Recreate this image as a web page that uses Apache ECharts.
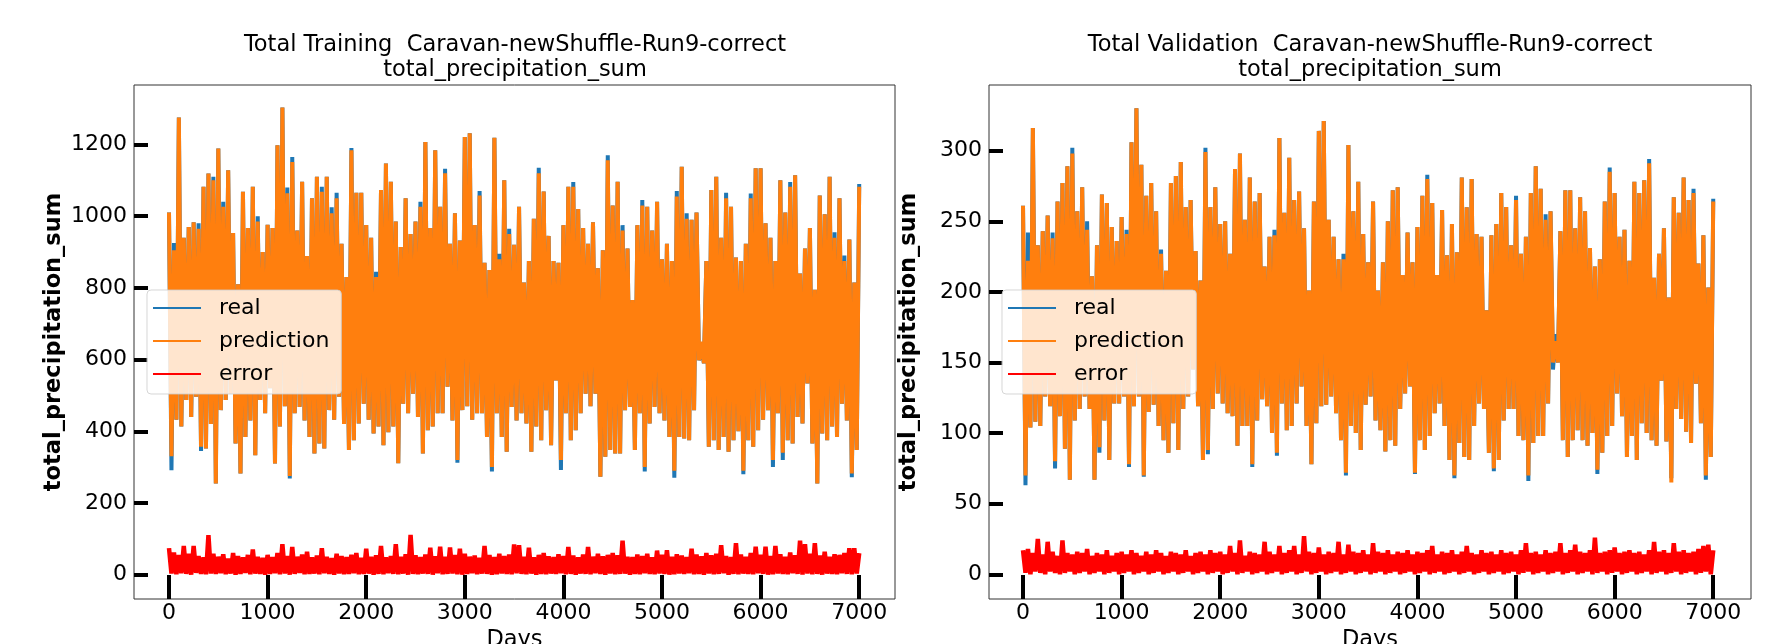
<!DOCTYPE html>
<html lang="en">
<head>
    <meta charset="UTF-8">
    <title>total_precipitation_sum</title>
    <style>
        html, body { margin: 0; padding: 0; background: #fff; }
    </style>
</head>
<body>
<div id="container" style="width: 1766px; height: 644px"></div>
<script type="text/javascript" src="https://cdn.jsdelivr.net/npm/echarts@6/dist/echarts.min.js"></script>
<script type="text/javascript">
    // curves every 25 days (peaks and troughs alternate)
    var dayStep = 25;
    var xTicks = [0, 1000, 2000, 3000, 4000, 5000, 6000, 7000];
    var trainTicks = [0, 200, 400, 600, 800, 1000, 1200];
    var validTicks = [0, 50, 100, 150, 200, 250, 300];

    var trainReal = [
        1010,291,925,432,1275,413,940,487,970,440,983,496,980,345,1082,352,1119,420,1110,254,
        1189,459,1040,487,1128,505,953,366,810,282,1068,384,967,430,1082,333,1000,487,900,450,
        976,520,967,310,1198,413,1303,470,1080,268,1165,450,960,468,1096,430,889,384,1050,338,
        1110,366,1082,352,1110,459,1025,432,1065,496,923,420,830,348,1190,375,1065,422,1065,477,
        975,432,940,394,845,413,1073,361,1147,397,1096,413,985,311,914,477,1050,450,950,505,
        985,440,1040,338,1207,403,967,413,1184,450,1026,450,1132,524,923,430,1008,312,932,459,
        1221,470,1231,432,975,450,1070,450,870,384,850,288,1219,450,895,384,1100,343,965,468,
        920,430,1026,450,815,422,875,343,993,413,1135,375,1069,459,945,361,875,542,870,292,
        975,450,1082,375,1095,403,1020,450,967,505,923,470,983,505,855,273,905,329,1170,348,
        1030,338,1096,338,975,459,910,468,766,348,975,450,1045,288,1026,422,960,468,1040,450,
        880,430,923,384,875,270,1070,384,1138,380,1008,375,990,459,1010,598,630,590,875,357,
        1073,375,1110,348,940,384,1065,343,1026,375,885,400,875,280,923,375,1063,357,1134,403,
        1134,432,980,459,940,300,875,450,1100,320,1010,375,1095,366,1114,440,840,422,910,533,
        967,366,795,254,1058,394,1005,375,1110,413,955,384,1050,477,890,430,935,272,815,348,
        1090
    ];
    var trainPred = [
        1010,330,905,432,1275,413,940,487,970,440,983,496,965,357,1082,352,1119,420,1100,254,
        1189,459,1026,487,1128,505,953,366,810,282,1068,384,967,430,1082,333,985,487,900,450,
        976,520,967,310,1198,413,1303,470,1064,275,1151,450,960,468,1096,430,889,384,1050,338,
        1110,366,1068,352,1110,459,1008,432,1050,496,923,420,830,348,1184,375,1065,422,1065,477,
        975,432,940,394,830,413,1073,361,1147,397,1096,413,985,311,914,477,1050,450,950,505,
        985,440,1026,338,1207,403,967,413,1184,450,1026,450,1120,524,923,430,1008,320,932,459,
        1221,470,1231,432,975,450,1058,450,870,384,850,300,1219,450,880,384,1100,343,950,468,
        920,430,1026,450,815,422,875,343,993,413,1120,375,1069,459,945,361,875,542,870,320,
        975,450,1082,375,1082,403,1020,450,967,505,923,470,983,505,855,273,905,329,1156,348,
        1030,338,1096,338,960,459,910,468,766,348,975,450,1030,300,1026,422,960,468,1040,450,
        880,430,923,384,875,290,1055,384,1138,380,993,375,990,459,1010,598,650,590,875,357,
        1073,375,1110,348,940,384,1050,343,1026,375,885,400,875,290,923,375,1050,357,1134,403,
        1134,432,980,459,940,320,875,450,1100,340,1010,375,1082,366,1114,440,840,422,910,533,
        967,366,795,254,1058,394,1005,375,1110,413,940,384,1050,477,875,430,935,282,815,348,
        1082
    ];
    var trainError = [
        74,3,62,1,55,4,80,2,58,0,80,5,52,2,48,1,110,3,58,2,
        50,4,57,1,45,3,60,0,52,2,48,5,55,1,70,3,50,2,47,0,
        55,2,49,4,60,1,85,3,52,0,77,2,50,5,56,1,64,2,48,3,
        53,1,74,4,50,2,46,0,58,3,52,1,49,2,55,4,60,1,47,2,
        72,3,50,0,54,2,80,1,48,4,52,2,85,1,50,3,57,0,111,2,
        54,1,49,3,56,2,75,0,51,4,78,1,50,2,76,3,55,1,72,0,
        58,2,50,4,53,1,47,3,80,2,55,0,49,1,58,3,52,2,56,1,
        84,4,82,2,50,1,75,3,48,0,55,2,60,1,51,3,49,2,57,4,
        52,1,77,2,53,0,48,3,56,2,77,1,50,4,58,2,51,0,55,3,
        60,1,54,2,95,3,50,0,49,2,56,1,52,4,58,2,48,1,67,3,
        55,2,68,0,50,1,57,3,53,2,49,4,72,1,56,2,51,0,60,3,
        54,1,58,2,82,4,52,0,49,2,88,1,56,3,50,2,60,1,78,4,
        55,2,78,0,52,1,80,3,57,2,50,1,62,4,54,2,95,0,85,3,
        58,1,88,2,53,0,64,3,50,2,57,1,55,4,60,2,74,1,74,3,
        60
    ];

    var validReal = [
        261,63,242,104,316,108,233,105,243,126,254,119,242,75,264,112,277,89,289,67,
        302,109,257,117,274,126,250,117,211,67,233,86,269,109,263,81,246,121,236,121,
        253,126,244,76,306,119,330,126,290,69,268,115,277,120,257,105,230,95,215,86,
        277,107,282,88,292,117,260,126,265,145,229,119,208,81,302,85,260,117,274,128,
        248,121,250,114,227,112,287,91,298,105,251,105,281,76,264,109,270,124,218,119,
        239,100,244,84,309,121,256,102,295,105,265,121,271,133,245,105,201,78,264,107,
        314,119,321,120,251,126,239,114,223,95,227,70,304,105,257,100,278,88,241,120,
        221,126,264,109,201,102,221,87,250,95,272,91,274,117,212,128,242,133,221,71,
        246,95,268,88,283,98,263,114,212,121,258,105,226,81,248,68,228,93,281,83,
        260,81,280,105,241,121,239,117,187,86,240,73,248,81,270,109,260,117,233,117,
        268,98,227,95,239,66,270,93,289,98,273,98,255,121,257,145,170,150,243,95,
        272,83,272,95,245,102,267,95,257,91,231,100,218,71,223,86,264,98,288,105,
        270,128,239,112,244,83,222,98,278,81,270,107,279,100,294,95,210,91,227,137,
        245,94,196,68,267,117,256,110,281,101,265,93,273,135,220,107,240,67,203,83,
        266
    ];
    var validPred = [
        261,70,222,104,316,108,233,105,243,126,254,119,238,80,264,112,277,89,289,67,
        298,109,257,117,274,126,244,117,211,67,233,90,269,109,263,81,246,121,236,121,
        253,126,241,78,306,119,330,126,290,70,268,115,277,120,257,105,227,95,215,86,
        277,107,282,88,292,117,260,126,265,145,229,119,208,81,299,88,260,117,274,128,
        248,121,250,114,227,112,287,91,298,105,251,105,281,78,264,109,270,124,218,119,
        239,100,240,86,309,121,256,102,295,105,265,121,271,133,245,105,201,78,264,107,
        314,119,321,120,251,126,239,114,223,95,223,72,304,105,257,100,278,88,241,120,
        221,126,264,109,201,102,221,87,250,95,272,91,274,117,212,128,242,133,221,72,
        246,95,268,88,280,98,263,114,212,121,258,105,226,81,248,70,228,93,281,83,
        260,81,280,105,241,121,239,117,187,86,240,75,248,81,270,109,260,117,233,117,
        265,98,227,95,239,70,270,93,289,98,273,98,251,121,257,150,165,150,243,95,
        272,83,272,95,245,102,267,95,257,91,231,100,218,74,223,86,264,98,285,105,
        270,128,239,112,244,83,222,98,278,81,270,107,279,100,291,95,210,91,227,137,
        245,94,196,65,267,117,256,110,281,101,265,93,270,135,220,107,240,70,203,83,
        264
    ];
    var validError = [
        17,1,18,0,15,2,25,1,14,0,23,2,16,1,13,0,24,1,15,2,
        14,0,16,1,15,2,18,0,13,1,15,2,14,0,17,1,13,2,15,0,
        16,1,14,2,17,0,15,1,13,2,16,0,14,1,17,2,15,0,13,1,
        16,2,15,0,14,1,17,2,13,0,15,1,16,2,14,0,17,1,15,2,
        16,0,14,1,20,2,15,0,24,1,13,2,16,0,15,1,14,2,23,0,
        16,1,14,2,20,0,15,1,17,2,20,0,14,1,27,2,16,0,15,1,
        19,2,14,0,16,1,15,2,23,0,14,1,21,2,16,0,15,1,17,2,
        14,0,22,1,16,2,15,0,17,1,14,2,16,0,15,1,17,2,14,0,
        16,1,15,2,17,0,20,1,14,2,16,0,15,1,17,2,14,0,16,1,
        20,2,15,0,14,1,17,2,15,0,16,1,14,2,17,0,15,1,16,2,
        14,0,17,1,22,2,15,0,16,1,14,2,17,0,15,1,16,2,22,0,
        15,1,17,2,21,0,16,1,15,2,17,0,26,1,15,2,16,0,17,1,
        19,2,15,0,16,1,17,2,15,0,16,1,14,2,17,0,23,1,16,2,
        17,0,15,1,22,2,16,0,17,1,15,2,16,0,18,1,20,2,21,0,
        17
    ];

    var font = 'DejaVu Sans';

    function pairs(values) {
        return values.map(function (v, i) { return [i * dayStep, v]; });
    }

    function plain(v) {
        return String(v);
    }

    function makeXAxis(idx, min, max) {
        return {
            type: 'value', gridIndex: idx, min: min, max: max,
            name: 'Days', nameLocation: 'middle', nameGap: 30,
            nameTextStyle: {fontFamily: font, fontSize: 22.5, color: '#000'},
            axisLine: {show: false, onZero: false},
            splitLine: {show: false},
            axisTick: {inside: true, length: 24, customValues: xTicks, lineStyle: {color: '#000', width: 4}},
            axisLabel: {customValues: xTicks, formatter: plain, margin: 3, fontFamily: font, fontSize: 22, color: '#000'}
        };
    }

    function makeYAxis(idx, min, max, ticks) {
        return {
            type: 'value', gridIndex: idx, min: min, max: max,
            name: 'total_precipitation_sum', nameLocation: 'middle', nameGap: 68, nameRotate: 90,
            nameTextStyle: {fontFamily: font, fontSize: 22.5, fontWeight: 'bold', color: '#000'},
            axisLine: {show: false, onZero: false},
            splitLine: {show: false},
            axisTick: {inside: true, length: 14, customValues: ticks, lineStyle: {color: '#000', width: 4}},
            axisLabel: {customValues: ticks, formatter: plain, margin: 7, fontFamily: font, fontSize: 22, color: '#000'}
        };
    }

    function makeLegend(left) {
        return {
            left: left, top: 290, orient: 'vertical',
            data: ['real', 'prediction', 'error'],
            icon: 'rect', itemWidth: 48, itemHeight: 2, itemGap: 9,
            padding: [6, 12, 8, 6],
            backgroundColor: 'rgba(255,255,255,0.8)',
            borderColor: 'rgba(204,204,204,0.8)', borderWidth: 1, borderRadius: 4,
            textStyle: {fontFamily: font, fontSize: 22, color: '#000', lineHeight: 24, padding: [0, 0, 0, 13]}
        };
    }

    function line(name, color, values, idx, width) {
        return {
            name: name, type: 'line', xAxisIndex: idx, yAxisIndex: idx,
            data: pairs(values), showSymbol: false, symbol: 'none',
            lineStyle: {color: color, width: width, join: 'bevel'}, itemStyle: {color: color},
            emphasis: {disabled: true}
        };
    }

    var titleStyle = {fontFamily: font, fontSize: 22.5, fontWeight: 'normal', color: '#000', lineHeight: 25};

    var option = {
        animation: false,
        backgroundColor: '#fff',
        title: [
            {
                text: 'Total Training  Caravan-newShuffle-Run9-correct\ntotal_precipitation_sum',
                left: 515, top: 33, textAlign: 'center', padding: 0, textStyle: titleStyle
            },
            {
                text: 'Total Validation  Caravan-newShuffle-Run9-correct\ntotal_precipitation_sum',
                left: 1370, top: 33, textAlign: 'center', padding: 0, textStyle: titleStyle
            }
        ],
        legend: [makeLegend(147), makeLegend(1002)],
        grid: [
            {left: 134, top: 85, width: 761, height: 514, outerBoundsMode: 'none', containLabel: false,
                show: true, borderColor: '#333', borderWidth: 1},
            {left: 989, top: 85, width: 762, height: 514, outerBoundsMode: 'none', containLabel: false,
                show: true, borderColor: '#333', borderWidth: 1}
        ],
        xAxis: [makeXAxis(0, -355, 7363), makeXAxis(1, -345, 7383)],
        yAxis: [makeYAxis(0, -68, 1366, trainTicks), makeYAxis(1, -17.5, 346.5, validTicks)],
        series: [
            line('real', '#1f77b4', trainReal, 0, 4),
            line('prediction', '#ff7f0e', trainPred, 0, 4),
            line('error', '#ff0000', trainError, 0, 4.5),
            line('real', '#1f77b4', validReal, 1, 4),
            line('prediction', '#ff7f0e', validPred, 1, 4),
            line('error', '#ff0000', validError, 1, 4.5)
        ]
    };

    //初始化echarts实例
    var myChart = echarts.init(document.getElementById('container'));
    myChart.setOption(option);
</script>
</body>
</html>
